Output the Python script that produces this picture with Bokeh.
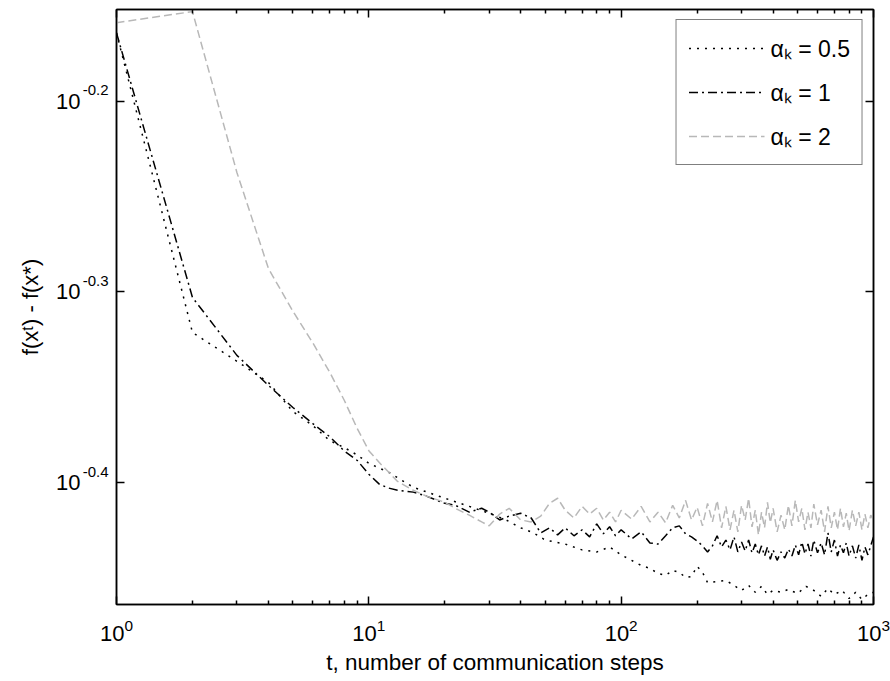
import math
from bokeh.plotting import figure
from bokeh.models import (Range1d, FixedTicker, LogAxis, Legend, LegendItem,
                          CustomJSTickFormatter, LogTickFormatter, LogScale)
from bokeh.embed import file_html
from bokeh.resources import INLINE

# ---- data ----
t_a05 = [1, 2, 3, 4, 5, 6, 7, 8, 9, 10, 12, 15, 20, 25, 30, 35, 40, 45, 50,
         60, 70, 80, 90, 100, 110, 120, 130, 140, 150, 160, 170, 180, 190, 200,
         210, 220, 240, 260, 280, 300, 320, 340, 360, 380, 400, 430, 460, 500,
         540, 580, 620, 660, 700, 750, 800, 850, 900, 950, 1000]
f_a05 = [0.685, 0.4773, 0.461, 0.4494, 0.4339, 0.4266, 0.4189, 0.4154, 0.4117, 0.4076,
         0.4032, 0.3960, 0.3908, 0.3870, 0.3838, 0.3807, 0.3771, 0.3748, 0.3716,
         0.3698, 0.3672, 0.3663, 0.3685, 0.3650, 0.3626, 0.3604, 0.3591, 0.3569,
         0.3561, 0.3582, 0.3574, 0.3552, 0.3556, 0.3600, 0.3574, 0.3530, 0.3535,
         0.3539, 0.3518, 0.3497, 0.3518, 0.3489, 0.3514, 0.3480, 0.3497, 0.3489,
         0.3501, 0.3484, 0.3514, 0.3497, 0.3472, 0.3505, 0.3480, 0.3497, 0.3463,
         0.3489, 0.3459, 0.3480, 0.3489]

t_a1 = [1, 2, 3, 4, 5, 6, 7, 8, 9, 10, 11, 12, 13, 15, 17, 20, 22, 25, 28, 30,
        33, 36, 40, 44, 48, 52, 56, 60, 65, 70, 75, 80, 85, 90, 95, 100, 110, 120,
        130, 140, 150, 160, 170, 180, 190, 200, 210, 220, 230, 240, 250, 260, 270,
        280, 290, 300, 310, 320, 330, 340, 350, 360, 370, 380, 390, 400, 415, 430,
        445, 460, 475, 490, 505, 520, 535, 550, 565, 580, 600, 620, 640, 660, 680,
        700, 720, 740, 760, 780, 800, 825, 850, 875, 900, 925, 950, 975, 1000]
f_a1 = [0.685, 0.4979, 0.4643, 0.4478, 0.4360, 0.4276, 0.4209, 0.4137, 0.4090, 0.4023,
        0.3975, 0.3956, 0.3946, 0.3937, 0.3917, 0.3884, 0.3875, 0.3843, 0.3861, 0.3843,
        0.3807, 0.3825, 0.3838, 0.3816, 0.3748, 0.3771, 0.3739, 0.3771, 0.3735, 0.3762,
        0.3730, 0.3789, 0.3744, 0.3776, 0.3735, 0.3762, 0.3721, 0.3753, 0.3703, 0.3698,
        0.3735, 0.3771, 0.3780, 0.3744, 0.3730, 0.3712, 0.3690, 0.3663, 0.3690, 0.3735,
        0.3685, 0.3716, 0.3672, 0.3730, 0.3663, 0.3707, 0.3667, 0.3716, 0.3659, 0.3698,
        0.3650, 0.3690, 0.3645, 0.3685, 0.3631, 0.3672, 0.3626, 0.3663, 0.3636, 0.3676,
        0.3645, 0.3694, 0.3650, 0.3707, 0.3654, 0.3698, 0.3645, 0.3716, 0.3659, 0.3703,
        0.3650, 0.3748, 0.3663, 0.3716, 0.3645, 0.3694, 0.3659, 0.3703, 0.3645, 0.3690,
        0.3636, 0.3694, 0.3626, 0.3685, 0.3650, 0.3690, 0.3730]

t_a2 = list(t_a1)
f_a2 = [0.6935, 0.7028, 0.5789, 0.5156, 0.4897, 0.4713, 0.4549, 0.4397, 0.4250, 0.4139,
        0.4080, 0.4032, 0.3988, 0.3946, 0.3917, 0.3889, 0.3861, 0.3829, 0.3798, 0.3780,
        0.3834, 0.3861, 0.3807, 0.3798, 0.3825, 0.3884, 0.3908, 0.3852, 0.3816, 0.3870,
        0.3834, 0.3861, 0.3807, 0.3843, 0.3798, 0.3852, 0.3811, 0.3870, 0.3798, 0.3843,
        0.3794, 0.3875, 0.3816, 0.3898, 0.3807, 0.3866, 0.3780, 0.3884, 0.3798, 0.3898,
        0.3771, 0.3870, 0.3762, 0.3852, 0.3753, 0.3875, 0.3807, 0.3908, 0.3775, 0.3852,
        0.3739, 0.3843, 0.3771, 0.3889, 0.3794, 0.3861, 0.3753, 0.3829, 0.3762, 0.3875,
        0.3780, 0.3898, 0.3798, 0.3861, 0.3762, 0.3843, 0.3771, 0.3880, 0.3785, 0.3852,
        0.3753, 0.3870, 0.3771, 0.3843, 0.3762, 0.3861, 0.3775, 0.3838, 0.3757, 0.3852,
        0.3780, 0.3843, 0.3762, 0.3834, 0.3771, 0.3829, 0.3807]

series_labels = ["\u03b1\u2096 = 0.5", "\u03b1\u2096 = 1", "\u03b1\u2096 = 2"]
x_tick_exps = [0, 1, 2, 3]
y_tick_exps = ["-0.4", "-0.3", "-0.2"]
x_lo, x_hi = 1, 1000
y_lo, y_hi = 0.3438, 0.7046
x_label = "t, number of communication steps"
y_label = "f(x\u1d57) - f(x*)"

FONT = "Liberation Sans"
FRAME_H = 595          # frame height in px (681 - 9 - 77)
EXP_RAISE_PX = 11      # exponent text raised above its tick

x_ticks = [10 ** e for e in x_tick_exps]
x_minor = [m * 10 ** e for e in x_tick_exps[:-1] for m in range(2, 10)]
y_ticks = [10 ** float(e) for e in y_tick_exps]

p = figure(width=890, height=681, x_axis_type="log", y_axis_type="log",
           x_range=Range1d(x_lo, x_hi), y_range=Range1d(y_lo, y_hi),
           output_backend="svg", toolbar_location=None,
           min_border_left=116, min_border_right=17, min_border_top=9,
           min_border_bottom=77)
p.background_fill_color = "white"
p.border_fill_color = "white"
p.grid.visible = False
p.outline_line_color = "black"
p.outline_line_width = 1.5

def style_axis(ax, ticker, labels=False):
    ax.ticker = ticker
    if not labels:
        ax.formatter = CustomJSTickFormatter(code="return ''")
        ax.major_label_standoff = 0
    ax.major_tick_in = 8
    ax.major_tick_out = 0
    ax.minor_tick_in = 4
    ax.minor_tick_out = 0
    ax.major_tick_line_width = 1.5
    ax.minor_tick_line_width = 1.5
    ax.axis_line_width = 1.5

# bottom axis with 10^n labels
xa = p.xaxis[0]
style_axis(xa, FixedTicker(ticks=x_ticks, minor_ticks=x_minor), labels=True)
xa.formatter = LogTickFormatter()
xa.major_label_text_font = FONT
xa.major_label_text_font_size = "22px"
xa.major_label_text_color = "black"
xa.major_label_standoff = 14
xa.axis_label = x_label
xa.axis_label_text_font = FONT
xa.axis_label_text_font_size = "22.5px"
xa.axis_label_text_font_style = "normal"
xa.axis_label_text_color = "black"
xa.axis_label_standoff = 6

# left axis: ticks only
style_axis(p.yaxis[0], FixedTicker(ticks=y_ticks, minor_ticks=[]))

# exponent labels of the y ticks (slightly raised)
raise_k = 10 ** (EXP_RAISE_PX * math.log10(y_hi / y_lo) / FRAME_H)
p.extra_y_ranges = {"exp": Range1d(y_lo / raise_k, y_hi / raise_k)}
p.extra_y_scales = {"exp": LogScale()}
exp_axis = LogAxis(y_range_name="exp", ticker=FixedTicker(ticks=y_ticks, minor_ticks=[]))
exp_axis.major_label_overrides = {v: e for v, e in zip(y_ticks, y_tick_exps)}
exp_axis.major_label_text_font = FONT
exp_axis.major_label_text_font_size = "15px"
exp_axis.major_label_text_color = "black"
exp_axis.major_label_standoff = 2
exp_axis.axis_line_color = None
exp_axis.major_tick_line_color = None
exp_axis.minor_tick_line_color = None
p.add_layout(exp_axis, "left")

# base "10" of the y ticks + axis title
ten_axis = LogAxis(ticker=FixedTicker(ticks=y_ticks, minor_ticks=[]))
ten_axis.major_label_overrides = {v: "10" for v in y_ticks}
ten_axis.major_label_text_font = FONT
ten_axis.major_label_text_font_size = "22px"
ten_axis.major_label_text_color = "black"
ten_axis.major_label_standoff = -7
ten_axis.axis_line_color = None
ten_axis.major_tick_line_color = None
ten_axis.minor_tick_line_color = None
ten_axis.axis_label = y_label
ten_axis.axis_label_text_font = FONT
ten_axis.axis_label_text_font_size = "22px"
ten_axis.axis_label_text_font_style = "normal"
ten_axis.axis_label_text_color = "black"
ten_axis.axis_label_standoff = 10
p.add_layout(ten_axis, "left")

# box: top and right axes with ticks only
top = LogAxis()
style_axis(top, FixedTicker(ticks=x_ticks, minor_ticks=x_minor))
p.add_layout(top, "above")
right = LogAxis()
style_axis(right, FixedTicker(ticks=y_ticks, minor_ticks=[]))
p.add_layout(right, "right")

r1 = p.line(t_a05, f_a05, line_color="black", line_width=1.5, line_dash="2 6")
r2 = p.line(t_a1, f_a1, line_color="black", line_width=1.5, line_dash="9 4 2 4")
r3 = p.line(t_a2, f_a2, line_color="#b8b8b8", line_width=1.5, line_dash="8 4")

legend = Legend(items=[LegendItem(label=series_labels[0], renderers=[r1]),
                       LegendItem(label=series_labels[1], renderers=[r2]),
                       LegendItem(label=series_labels[2], renderers=[r3])],
                location="top_right", orientation="vertical")
legend.border_line_color = "black"
legend.border_line_width = 1.5
legend.background_fill_color = "white"
legend.background_fill_alpha = 1
legend.label_text_font = FONT
legend.label_text_font_size = "23px"
legend.label_text_color = "black"
legend.glyph_width = 76
legend.glyph_height = 26
legend.label_height = 26
legend.spacing = 12
legend.padding = 12
legend.label_standoff = 6
legend.margin = 10
p.add_layout(legend)

open("out.html", "w").write(file_html(p, INLINE))
